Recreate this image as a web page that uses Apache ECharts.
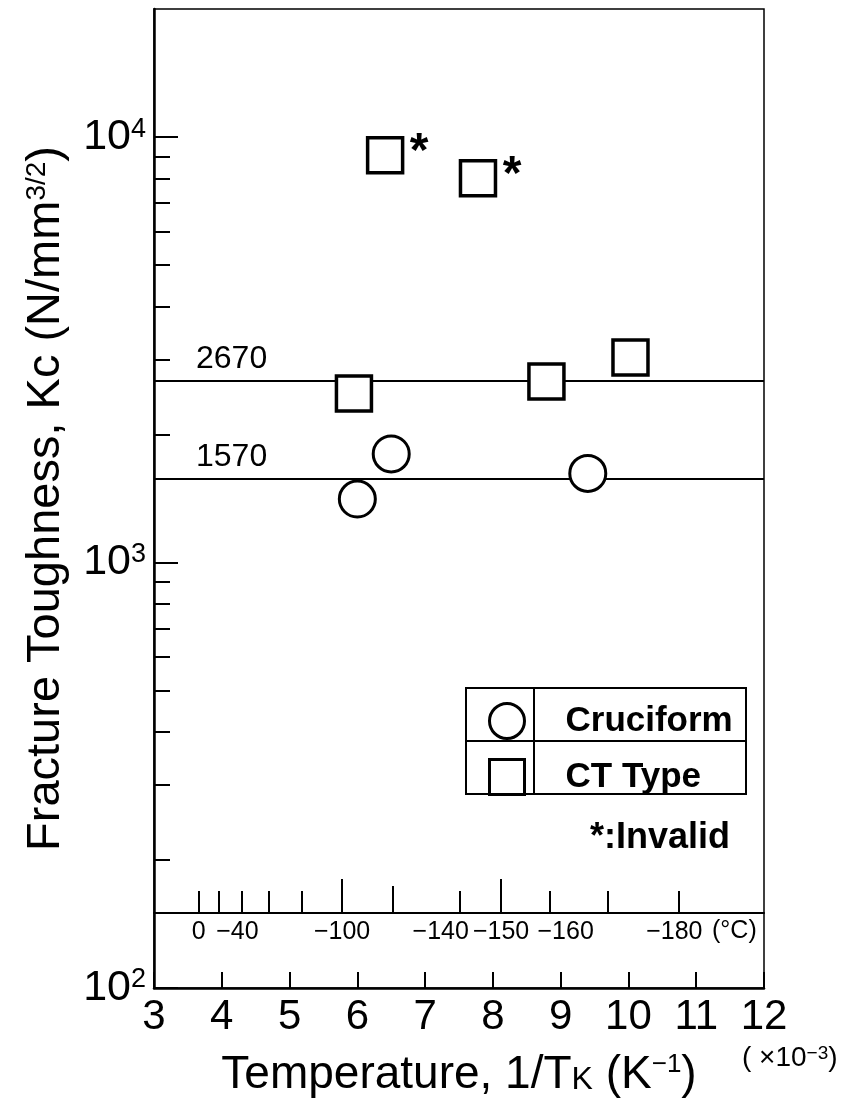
<!DOCTYPE html>
<html>
<head>
<meta charset="utf-8">
<script src="https://cdn.jsdelivr.net/npm/echarts@6/dist/echarts.min.js"></script>
<style>
  * { margin: 0; padding: 0; }
  body { background: #fff; }
  #main { width: 857px; height: 1106px; }
</style>
</head>
<body>
<div id="main"></div>
<script>
// data
var cruciformX = [6.0, 6.5, 9.4];
var cruciformKc = [1410, 1800, 1620];
var ctX = [6.41, 7.78, 5.95, 8.79, 10.03];
var ctKc = [9060, 8000, 2495, 2665, 3035];
var ctInvalid = [true, true, false, false, false];
var refLevels = [2670, 1570];

// axis ticks
var yMajor = [100, 1000, 10000];
var yMinor = [200, 300, 400, 500, 600, 700, 800, 900, 2000, 3000, 4000, 5000, 6000, 7000, 8000, 9000];
var celsiusTicks = [0, -20, -40, -60, -80, -100, -120, -140, -150, -160, -170, -180];
var celsiusLabels = [0, -40, -100, -140, -150, -160, -180];
var celsiusLong = [-100, -150];
var celsiusMid = [-120];

var FONT = "'Liberation Sans', Arial, sans-serif";

function invK(c) { return 1000 / (c + 273.15); }

var chart = echarts.init(document.getElementById('main'));

var ctData = ctX.map(function (x, i) {
  return {
    value: [x, ctKc[i]],
    label: { show: ctInvalid[i] }
  };
});
var cruData = cruciformX.map(function (x, i) { return [x, cruciformKc[i]]; });

// crowded labels are nudged apart like in the print
var nudge = { '-140': 'l', '-160': 'r', '-40': 'l1', '-180': 'l1' };

function celsiusAxis(ticks, len, withLine, withLabel) {
  return {
    type: 'value', gridIndex: 1, min: 3, max: 12, position: 'bottom',
    axisLine: { show: withLine, lineStyle: { color: '#000', width: 2 } },
    axisTick: { show: true, inside: true, length: len, customValues: ticks.map(invK),
      lineStyle: { color: '#000', width: 2 } },
    axisLabel: {
      show: withLabel, customValues: celsiusLabels.map(invK), margin: 7, hideOverlap: false,
      fontFamily: FONT, fontSize: 25, color: '#000',
      formatter: function (v) {
        var c = Math.round(1000 / v - 273.15);
        var t = c === 0 ? '0' : '\u2212' + Math.abs(c);
        var k = nudge[String(c)];
        return k ? '{' + k + '|' + t + '}' : t;
      },
      rich: {
        l: { fontFamily: FONT, fontSize: 25, color: '#000', padding: [0, 38, 0, 0] },
        l1: { fontFamily: FONT, fontSize: 25, color: '#000', padding: [0, 8, 0, 0] },
        r: { fontFamily: FONT, fontSize: 25, color: '#000', padding: [0, 0, 0, 32] }
      }
    },
    splitLine: { show: false }
  };
}

chart.setOption({
  backgroundColor: '#fff',
  animation: false,
  grid: [
    { left: 154, right: 93, top: 9, bottom: 118, show: true, borderColor: '#000', borderWidth: 1.5 },
    { left: 154, right: 93, top: 880, bottom: 193 }
  ],
  legend: {
    orient: 'vertical', left: 483, top: 697, itemWidth: 35, itemHeight: 35, itemGap: 18,
    data: ['Cruciform', 'CT Type'],
    itemStyle: { color: '#fff', borderColor: '#000', borderWidth: 3 },
    textStyle: { fontFamily: FONT, fontSize: 35, lineHeight: 35, fontWeight: 'bold', color: '#000', padding: [0, 0, 0, 36] }
  },
  xAxis: [
    {
      type: 'value', gridIndex: 0, min: 3, max: 12, interval: 1,
      name: 'Temperature, 1/T{k|K} (K{s|\u22121})',
      nameLocation: 'middle', nameGap: 64,
      nameTextStyle: {
        fontFamily: FONT, fontSize: 46, color: '#000',
        rich: {
          k: { fontFamily: FONT, fontSize: 32, color: '#000', padding: [10, 0, 0, 0] },
          s: { fontFamily: FONT, fontSize: 26, color: '#000', verticalAlign: 'top' }
        }
      },
      axisLine: { show: true, lineStyle: { color: '#000', width: 2.5 } },
      axisTick: { inside: true, length: 16, lineStyle: { color: '#000', width: 2 } },
      axisLabel: { fontFamily: FONT, fontSize: 42, color: '#000', margin: 8 },
      splitLine: { show: false }
    },
    celsiusAxis(celsiusTicks, 22, true, true),
    celsiusAxis(celsiusLong, 34, false, false),
    celsiusAxis(celsiusMid, 27, false, false)
  ],
  yAxis: [
    {
      type: 'log', gridIndex: 0, logBase: 10, min: 100, max: 20000, position: 'left',
      name: 'Fracture Toughness, Kc (N/mm{s|3/2})',
      nameLocation: 'middle', nameRotate: 90, nameGap: 84,
      nameTextStyle: {
        fontFamily: FONT, fontSize: 47, color: '#000',
        rich: { s: { fontFamily: FONT, fontSize: 28, color: '#000', verticalAlign: 'top' } }
      },
      axisLine: { show: true, lineStyle: { color: '#000', width: 2.5 } },
      axisTick: { inside: true, length: 24, customValues: yMajor, lineStyle: { color: '#000', width: 2 } },
      axisLabel: {
        customValues: yMajor, margin: 8,
        formatter: function (v) {
          return '{b|10}{s|' + Math.round(Math.log10(v)) + '}';
        },
        rich: {
          b: { fontFamily: FONT, fontSize: 43, color: '#000' },
          s: { fontFamily: FONT, fontSize: 27, color: '#000', verticalAlign: 'top' }
        }
      },
      splitLine: { show: false }
    },
    {
      type: 'log', gridIndex: 0, logBase: 10, min: 100, max: 20000, position: 'left',
      axisLine: { show: false },
      axisTick: { inside: true, length: 16, customValues: yMinor, lineStyle: { color: '#000', width: 2 } },
      axisLabel: { show: false },
      splitLine: { show: false }
    },
    { type: 'value', gridIndex: 1, show: false }
  ],
  graphic: [
    { type: 'rect', shape: { x: 466, y: 688, width: 280, height: 106 }, style: { fill: 'none', stroke: '#000', lineWidth: 2 }, z: 10 },
    { type: 'line', shape: { x1: 466, y1: 741, x2: 746, y2: 741 }, style: { stroke: '#000', lineWidth: 2 }, z: 10 },
    { type: 'line', shape: { x1: 534, y1: 688, x2: 534, y2: 794 }, style: { stroke: '#000', lineWidth: 2 }, z: 10 },
    { type: 'text', left: 590, top: 820, style: { text: '*:Invalid', font: 'bold 36px ' + FONT, fill: '#000' }, z: 10 },
    { type: 'text', left: 712, top: 919, style: { text: '(\u00b0C)', font: '25px ' + FONT, fill: '#000' }, z: 10 },
    {
      type: 'text', left: 742, top: 1044, z: 10,
      style: {
        text: '( \u00d710{s|\u22123})', font: '28px ' + FONT, fill: '#000',
        rich: { s: { fontSize: 19, fontFamily: FONT, verticalAlign: 'top' } }
      }
    }
  ],
  series: [
    {
      name: 'levels', type: 'line', xAxisIndex: 0, yAxisIndex: 0, data: [],
      markLine: {
        silent: true, symbol: 'none', animation: false,
        lineStyle: { color: '#000', width: 1.8, type: 'solid' },
        label: {
          position: 'insideStartTop', formatter: '{c}', distance: 6,
          fontFamily: FONT, fontSize: 32, color: '#000', padding: [0, 0, 0, 36]
        },
        data: refLevels.map(function (v) { return { yAxis: v }; })
      }
    },
    {
      name: 'Cruciform', type: 'scatter', xAxisIndex: 0, yAxisIndex: 0,
      symbol: 'circle', symbolSize: 36, z: 5,
      itemStyle: { color: '#fff', borderColor: '#000', borderWidth: 3, opacity: 1 },
      data: cruData
    },
    {
      name: 'CT Type', type: 'scatter', xAxisIndex: 0, yAxisIndex: 0,
      symbol: 'rect', symbolSize: 35, z: 5,
      itemStyle: { color: '#fff', borderColor: '#000', borderWidth: 3.5, opacity: 1 },
      label: {
        formatter: '*', position: [44, -7],
        fontFamily: FONT, fontSize: 48, fontWeight: 'bold', color: '#000'
      },
      data: ctData
    }
  ]
});
</script>
</body>
</html>
